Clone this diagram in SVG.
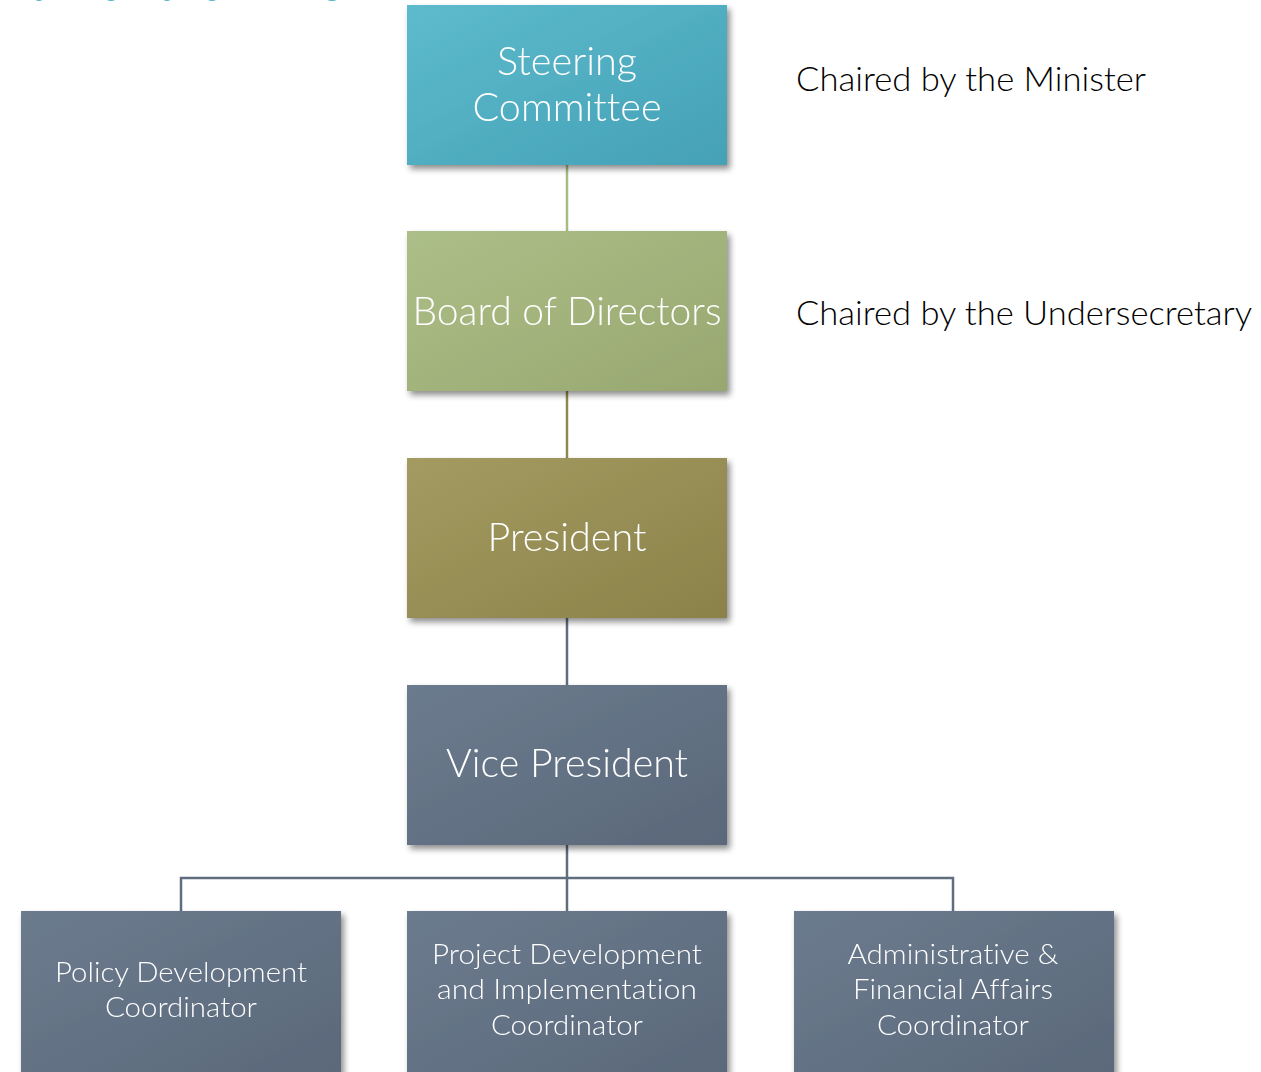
<svg xmlns="http://www.w3.org/2000/svg" width="1261" height="1072" viewBox="0 0 1261 1072">
<style>
.t{font-family:Lato,"Open Sans","Liberation Sans",sans-serif;font-weight:300;fill:#ffffff;text-anchor:middle;font-variant-ligatures:none}
.big{font-size:39px}
.small{font-size:28px}
.side{font-family:Lato,"Open Sans","Liberation Sans",sans-serif;font-weight:300;fill:#000000;font-size:33px;font-variant-ligatures:none}
.c{fill:none;stroke-width:2.5}
</style>
<defs>
<linearGradient id="gS" x1="0" y1="0" x2="1" y2="1"><stop offset="0" stop-color="#5dbbcd"/><stop offset="1" stop-color="#45a1b6"/></linearGradient>
<linearGradient id="gB" x1="0" y1="0" x2="1" y2="1"><stop offset="0" stop-color="#adbf88"/><stop offset="1" stop-color="#97a76f"/></linearGradient>
<linearGradient id="gP" x1="0" y1="0" x2="1" y2="1"><stop offset="0" stop-color="#a39b61"/><stop offset="1" stop-color="#8a8249"/></linearGradient>
<linearGradient id="gV" x1="0" y1="0" x2="1" y2="1"><stop offset="0" stop-color="#6c7b8e"/><stop offset="1" stop-color="#5a687a"/></linearGradient>
<filter id="sh" x="-10%" y="-10%" width="125%" height="130%">
<feGaussianBlur in="SourceAlpha" stdDeviation="3"/>
<feOffset dx="3" dy="4" result="b"/>
<feComponentTransfer><feFuncA type="linear" slope="0.45"/></feComponentTransfer>
<feMerge><feMergeNode/><feMergeNode in="SourceGraphic"/></feMerge>
</filter>
</defs>
<rect width="1261" height="1072" fill="#ffffff"/>
<g id="title-fragments" fill="#4fb3c9">
<ellipse cx="39" cy="-3" rx="5" ry="4"/>
<ellipse cx="111" cy="-3" rx="6" ry="4"/>
<ellipse cx="167" cy="-3" rx="5" ry="4"/>
<ellipse cx="212" cy="-3" rx="6" ry="4"/>
<ellipse cx="332" cy="-3" rx="7" ry="4"/>
</g>
<g id="connectors">
<line class="c" x1="567" y1="165" x2="567" y2="231" stroke="#a9ba82"/>
<line class="c" x1="567" y1="391" x2="567" y2="458" stroke="#8f884f"/>
<line class="c" x1="567" y1="618" x2="567" y2="685" stroke="#5f6d7f"/>
<path class="c" d="M567 845 V911 M181 911 V878 H953 V911" stroke="#5f6d7f"/>
</g>
<g id="steering" filter="url(#sh)">
<rect x="407" y="5" width="320" height="160" fill="url(#gS)"/>
<text class="t big" x="567" y="75" textLength="140" lengthAdjust="spacingAndGlyphs">Steering</text>
<text class="t big" x="567" y="121" textLength="189" lengthAdjust="spacingAndGlyphs">Committee</text>
</g>
<g id="board" filter="url(#sh)">
<rect x="407" y="231" width="320" height="160" fill="url(#gB)"/>
<text class="t big" x="567" y="325" textLength="309" lengthAdjust="spacingAndGlyphs">Board of Directors</text>
</g>
<g id="president" filter="url(#sh)">
<rect x="407" y="458" width="320" height="160" fill="url(#gP)"/>
<text class="t big" x="567" y="551" textLength="159" lengthAdjust="spacingAndGlyphs">President</text>
</g>
<g id="vice-president" filter="url(#sh)">
<rect x="407" y="685" width="320" height="160" fill="url(#gV)"/>
<text class="t big" x="567" y="777" textLength="242" lengthAdjust="spacingAndGlyphs">Vice President</text>
</g>
<g id="policy" filter="url(#sh)">
<rect x="21" y="911" width="320" height="170" fill="url(#gV)"/>
<text class="t small" x="181" y="982" textLength="252" lengthAdjust="spacingAndGlyphs">Policy Development</text>
<text class="t small" x="181" y="1017" textLength="152" lengthAdjust="spacingAndGlyphs">Coordinator</text>
</g>
<g id="project" filter="url(#sh)">
<rect x="407" y="911" width="320" height="170" fill="url(#gV)"/>
<text class="t small" x="567" y="964" textLength="270" lengthAdjust="spacingAndGlyphs">Project Development</text>
<text class="t small" x="567" y="999" textLength="260" lengthAdjust="spacingAndGlyphs">and Implementation</text>
<text class="t small" x="567" y="1035" textLength="152" lengthAdjust="spacingAndGlyphs">Coordinator</text>
</g>
<g id="admin" filter="url(#sh)">
<rect x="794" y="911" width="320" height="170" fill="url(#gV)"/>
<text class="t small" x="953" y="964" textLength="211" lengthAdjust="spacingAndGlyphs">Administrative &amp;</text>
<text class="t small" x="953" y="999" textLength="200" lengthAdjust="spacingAndGlyphs">Financial Affairs</text>
<text class="t small" x="953" y="1035" textLength="152" lengthAdjust="spacingAndGlyphs">Coordinator</text>
</g>
<g id="labels">
<text class="side" x="796" y="91" textLength="350" lengthAdjust="spacingAndGlyphs">Chaired by the Minister</text>
<text class="side" x="796" y="325" textLength="456" lengthAdjust="spacingAndGlyphs">Chaired by the Undersecretary</text>
</g>
</svg>
